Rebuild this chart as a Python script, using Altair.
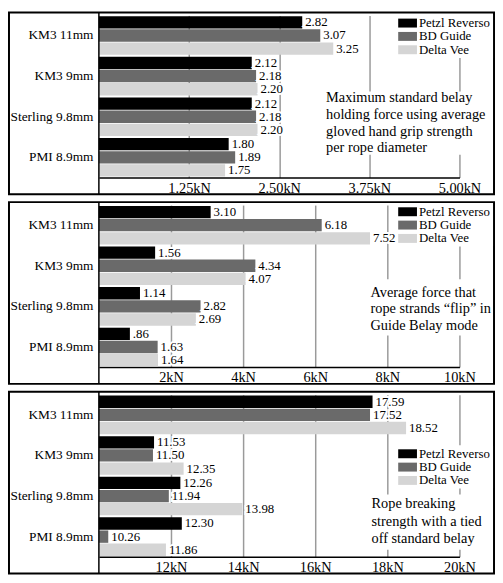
import altair as alt
import pandas as pd

ropes = ["KM3 11mm", "KM3 9mm", "Sterling 9.8mm", "PMI 8.9mm"]
devices = ["Petzl Reverso", "BD Guide", "Delta Vee"]
colors = ["#000000", "#6a6a6a", "#d5d5d5"]

# values in kN, one list per device, in rope order
hold_reverso = [2.82, 2.12, 2.12, 1.80]
hold_guide = [3.07, 2.18, 2.18, 1.89]
hold_vee = [3.25, 2.20, 2.20, 1.75]

flip_reverso = [3.10, 1.56, 1.14, 0.86]
flip_guide = [6.18, 4.34, 2.82, 1.63]
flip_vee = [7.52, 4.07, 2.69, 1.64]

break_reverso = [17.59, 11.53, 12.26, 12.30]
break_guide = [17.52, 11.50, 11.94, 10.26]
break_vee = [18.52, 12.35, 13.98, 11.86]

hold_ticks = [1.25, 2.5, 3.75, 5.0]
flip_ticks = [2, 4, 6, 8, 10]
break_ticks = [12, 14, 16, 18, 20]

hold_note = ["Maximum standard belay", "holding force using average",
             "gloved hand grip strength", "per rope diameter"]
flip_note = ["Average force that", "rope strands \u201cflip\u201d in",
             "Guide Belay mode"]
break_note = ["Rope breaking", "strength with a tied", "off standard belay"]

FONT = "Liberation Serif"
W, H = 365, 164


def to_frame(series):
    rows = []
    for dev, vals in zip(devices, series):
        for rope, v in zip(ropes, vals):
            rows.append({"rope": rope, "device": dev, "kn": v,
                         "label": f"{v:.2f}".lstrip("0")})
    return pd.DataFrame(rows)


def panel(series, domain, ticks, fmt, note, note_box, note_y, note_lh, legend_top):
    df = to_frame(series)
    base = alt.Chart(df)
    color = alt.Color("device:N", sort=devices, legend=None,
                      scale=alt.Scale(domain=devices, range=colors))

    y = alt.Y("rope:N", sort=ropes, title=None,
              scale=alt.Scale(paddingInner=0.05, paddingOuter=0.02),
              axis=alt.Axis(domain=False, ticks=False, labelFontSize=13.5,
                            labelFont=FONT, labelPadding=6,
                            labelColor="black"))
    yoff = alt.YOffset("device:N", sort=devices,
                       scale=alt.Scale(paddingInner=0.06))
    x = alt.X("kn:Q", title=None,
              scale=alt.Scale(domain=domain, nice=False, zero=False),
              axis=alt.Axis(values=ticks, ticks=False, grid=True,
                            labelExpr=f"format(datum.value, '{fmt}') + 'kN'",
                            gridColor="#9a9a9a", gridWidth=1.5,
                            domainColor="black", domainWidth=1.5,
                            labelFlush=False, labelOverlap=False,
                            labelFont=FONT, labelFontSize=14.5,
                            labelColor="black", labelPadding=4))

    bars = base.mark_bar().encode(
        y=y, yOffset=yoff, x=x, x2=alt.X2Datum(domain[0]), color=color)
    # white halo first, so grid lines do not run through the value labels
    halo = base.mark_text(align="left", baseline="middle", dx=3, font=FONT,
                          fontSize=13, color="white", stroke="white",
                          strokeWidth=4).encode(
        y=y, yOffset=yoff, x=alt.X("kn:Q"), text="label:N")
    labels = base.mark_text(align="left", baseline="middle", dx=3,
                            font=FONT, fontSize=13, color="black").encode(
        y=y, yOffset=yoff, x=alt.X("kn:Q"), text="label:N")

    one = alt.Chart(pd.DataFrame({"k": [0]}))
    frame = one.mark_rect(fillOpacity=0, stroke="black", strokeWidth=2).encode(
        x=alt.value(-91), x2=alt.value(400), y=alt.value(-3), y2=alt.value(181))
    yline = one.mark_rule(color="black", strokeWidth=1.5).encode(
        x=alt.value(0), y=alt.value(-3), y2=alt.value(181))
    box = one.mark_rect(fill="white").encode(
        x=alt.value(note_box[0]), x2=alt.value(note_box[1]),
        y=alt.value(note_box[2]), y2=alt.value(note_box[3]))
    text = alt.Chart(pd.DataFrame({"t": ["\n".join(note)]})).mark_text(
        align="left", baseline="top", font=FONT, fontSize=14.5,
        lineBreak="\n", lineHeight=note_lh, color="black").encode(
        x=alt.value(note_box[0] + 5), y=alt.value(note_y), text="t:N")

    # legend drawn as marks so that its rows sit exactly like the original
    leg = alt.Chart(pd.DataFrame({"device": devices}))
    leg_y = alt.Y("device:N", sort=devices, axis=None,
                  scale=alt.Scale(domain=devices,
                                  range=[legend_top, legend_top + 40.5],
                                  paddingInner=0.33, paddingOuter=0.165))
    leg_bg = one.mark_rect(fill="white").encode(
        x=alt.value(301), x2=alt.value(399),
        y=alt.value(legend_top - 2), y2=alt.value(legend_top + 42))
    leg_sw = leg.mark_rect().encode(
        x=alt.value(303), x2=alt.value(322), y=leg_y, color=color)
    leg_tx = leg.mark_text(align="left", baseline="middle", font=FONT,
                           fontSize=13, color="black").encode(
        x=alt.value(324), y=leg_y, text="device:N")

    data_layer = alt.layer(box, bars, halo, labels, text)
    legend_layer = alt.layer(leg_bg, leg_sw, leg_tx)
    return alt.layer(frame, data_layer, legend_layer, yline).resolve_scale(
        y="independent").properties(width=W, height=H)


p1 = panel([hold_reverso, hold_guide, hold_vee], [0, 5], hold_ticks, ".2f",
           hold_note, (225, 390, 77, 141), 77, 16.8, 1)
p2 = panel([flip_reverso, flip_guide, flip_vee], [0, 10], flip_ticks, "d",
           flip_note, (270, 390, 75, 132), 82, 16.5, 0)
p3 = panel([break_reverso, break_guide, break_vee], [10, 20], break_ticks, "d",
           break_note, (271, 390, 101, 157), 104, 17.5, 53)

chart = alt.vconcat(p1, p2, p3, spacing=6).properties(
    padding=0, background="white"
).configure_view(strokeWidth=0)

chart.save("out.html", embed_options={"renderer": "svg", "actions": False})
